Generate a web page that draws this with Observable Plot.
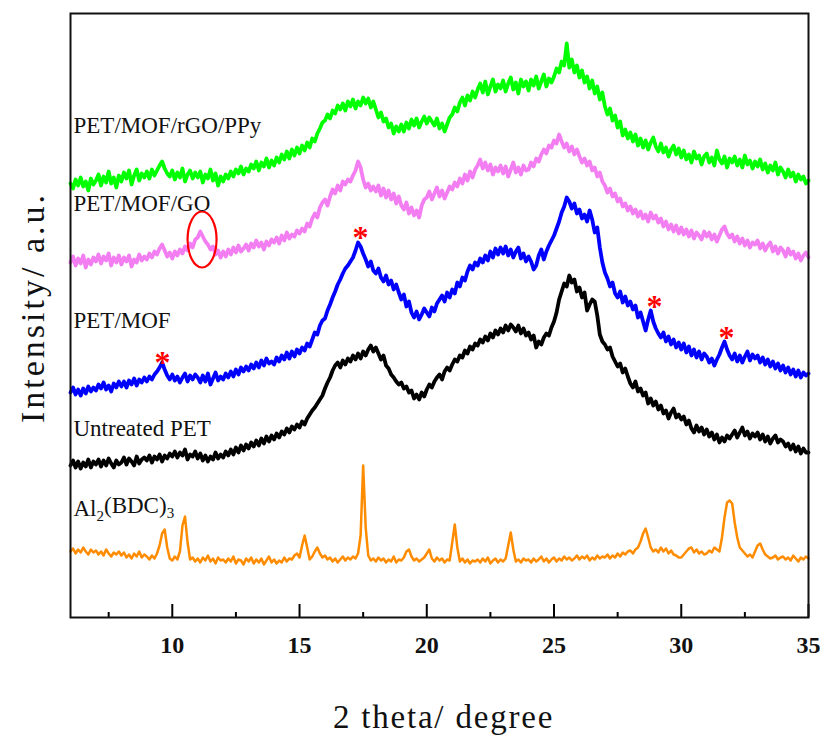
<!DOCTYPE html>
<html>
<head>
<meta charset="utf-8">
<script src="https://cdn.jsdelivr.net/npm/d3@7"></script>
<script src="https://cdn.jsdelivr.net/npm/@observablehq/plot@0.6"></script>
<style>
  html, body { margin: 0; padding: 0; background: #fff; }
  #chart svg { display: block; }
</style>
</head>
<body>
<div id="chart"></div>
<script>
// 2θ grid: 6.0 … 35.0 in 0.1° steps (291 points)
const thetaStart = 6, thetaStep = 0.1, thetaCount = 291;
const twoTheta = d3.range(thetaCount).map(i => +(thetaStart + i * thetaStep).toFixed(1));

// Intensity (a.u., offset-stacked), one row per degree (6.x … 34.x) + final 35.0
const rgoPpy = [
  434,429,438,432,440,431,436,427,439,433,
  437,443,432,441,435,446,434,440,430,442,
  436,445,439,447,433,442,448,437,444,440,
  446,439,448,442,447,452,456,449,444,441,
  447,438,445,440,449,436,443,447,439,445,
  440,446,435,443,439,448,437,444,432,441,
  436,443,439,446,441,448,444,451,443,449,
  446,453,449,456,447,455,451,459,450,457,
  452,460,455,463,458,466,459,468,462,470,
  464,472,467,475,470,479,476,484,489,495,
  497,503,499,507,504,512,508,514,507,516,
  511,518,509,516,512,520,514,519,510,516,
  508,500,505,496,499,490,494,484,491,486,
  493,486,495,489,498,492,499,490,496,501,
  494,500,496,492,499,489,494,486,493,500,
  503,510,506,515,520,512,522,517,526,520,
  528,534,525,536,523,531,538,526,533,529,
  537,526,534,540,528,535,524,538,531,536,
  527,538,532,541,529,536,543,531,539,535,
  541,549,545,556,552,574,550,558,545,552,
  540,547,535,541,529,537,524,531,518,525,
  511,503,509,497,502,490,496,482,488,479,
  485,476,483,472,479,470,477,468,475,480,
  471,466,474,465,470,461,468,472,463,469,
  460,467,458,463,455,466,459,462,453,461,
  464,455,460,452,467,458,454,461,450,459,
  455,461,452,458,450,462,453,457,449,456,
  451,458,448,454,445,452,447,455,443,450,
  446,440,448,441,445,436,443,438,441,434,
  437
];
const mofGo = [
  355,361,352,359,354,362,350,358,353,360,
  356,363,354,361,357,364,352,360,355,362,
  353,360,356,362,351,358,355,363,357,361,
  358,364,360,366,363,369,373,367,361,365,
  359,366,362,368,364,371,367,374,370,378,
  380,386,381,376,373,368,371,363,367,360,
  366,361,368,363,370,365,372,366,369,373,
  367,374,370,377,371,375,368,376,372,378,
  375,380,374,382,377,385,379,383,381,387,
  384,389,386,394,391,399,404,400,410,415,
  418,412,421,428,424,432,427,436,433,438,
  436,442,447,456,450,438,430,434,427,431,
  426,432,422,429,420,427,418,424,414,421,
  412,408,415,404,410,402,407,400,412,418,
  420,426,418,424,430,421,427,419,425,431,
  428,435,431,439,434,443,437,446,440,448,
  452,458,449,455,447,453,443,450,446,452,
  444,451,441,448,455,445,450,443,452,447,
  448,455,451,459,456,463,468,464,472,470,
  477,474,483,476,470,474,466,471,463,468,
  461,455,459,452,456,447,450,441,445,436,
  432,425,429,421,424,416,419,411,414,407,
  411,404,408,401,406,399,403,396,405,399,
  402,395,399,391,396,388,393,386,392,384,
  390,383,388,381,387,379,385,382,378,386,
  381,385,378,383,376,382,388,391,384,380,
  383,376,381,374,379,372,377,370,375,373,
  377,369,374,367,372,375,366,371,364,370,
  367,361,369,363,366,359,364,357,362,365,
  360
];
const petMof = [
  225,230,223,228,222,229,224,231,226,230,
  227,233,229,235,228,232,226,234,230,236,
  231,236,230,237,233,239,232,238,235,240,
  236,241,238,243,246,250,255,248,242,238,
  243,237,241,235,240,244,236,242,238,243,
  240,235,242,236,244,233,239,245,237,241,
  238,244,240,246,241,248,243,250,246,251,
  247,253,249,255,250,257,252,259,254,256,
  253,260,256,262,258,265,259,266,261,268,
  264,270,267,274,271,278,285,283,292,297,
  299,307,313,320,326,333,338,344,349,352,
  356,360,367,375,371,364,358,351,356,347,
  344,349,340,336,342,333,337,328,333,325,
  318,323,311,316,305,300,306,298,303,309,
  305,301,310,306,314,318,322,316,325,320,
  328,324,335,331,340,337,346,352,348,355,
  352,359,355,362,357,366,360,369,363,370,
  364,371,362,368,360,366,370,359,364,356,
  361,356,348,352,362,368,358,366,372,377,
  382,389,396,405,411,420,416,409,414,404,
  408,399,403,396,407,398,385,390,370,355,
  345,339,331,335,324,320,326,315,321,312,
  316,308,312,300,305,296,287,298,307,296,
  289,284,280,285,276,281,273,278,270,275,
  268,274,265,271,262,268,260,266,258,264,
  261,255,259,252,258,263,270,276,268,262,
  258,264,256,262,255,261,266,257,263,259,
  262,255,260,253,258,251,256,249,254,247,
  252,245,250,243,248,241,247,240,245,242,
  244
];
const untreatedPet = [
  152,157,150,156,149,155,151,158,150,156,
  153,158,151,157,152,159,154,150,157,153,
  155,160,153,159,156,152,161,154,158,160,
  157,162,155,161,158,163,156,162,159,164,
  161,166,160,165,162,168,158,163,161,166,
  159,164,157,162,156,161,158,165,159,163,
  160,166,162,168,163,170,165,172,167,173,
  169,175,171,177,172,179,174,181,176,182,
  178,184,180,186,183,189,185,191,188,193,
  190,196,193,199,203,207,210,214,218,222,
  229,235,240,247,252,255,250,257,253,259,
  256,262,258,264,259,266,262,268,272,266,
  270,264,258,262,252,249,243,240,236,233,
  235,229,231,225,227,219,223,218,225,221,
  228,233,230,236,240,243,238,246,250,247,
  253,258,256,262,260,267,264,271,268,274,
  272,278,275,281,277,284,280,287,283,289,
  285,292,287,293,290,286,292,284,289,282,
  285,278,282,270,276,273,280,284,282,290,
  296,305,318,326,334,331,342,335,338,326,
  330,320,325,307,313,318,316,302,283,276,
  273,268,270,261,256,251,254,245,249,241,
  234,230,236,226,229,222,225,214,219,212,
  216,208,212,204,207,199,205,209,200,203,
  198,201,193,197,189,185,192,186,190,183,
  188,181,185,178,183,175,180,176,182,179,
  183,187,180,185,190,182,186,179,184,181,
  185,178,183,176,181,174,179,182,175,178,
  176,171,174,168,173,166,171,164,169,165,
  165
];
const al2bdc3 = [
  66,69,64,68,65,70,66,63,68,65,
  67,63,66,62,68,64,61,65,63,66,
  62,65,60,63,59,64,61,66,60,63,
  61,58,62,59,64,72,84,88,70,59,
  57,61,58,66,92,101,75,58,60,56,
  59,55,60,57,62,56,59,54,60,57,
  58,55,59,56,61,54,58,57,53,59,
  56,60,54,58,55,59,53,57,61,55,
  58,54,57,55,60,56,59,58,62,64,
  60,72,82,70,58,61,66,70,64,60,
  62,58,60,56,59,55,58,61,57,60,
  58,61,59,64,82,152,90,62,57,59,
  56,60,57,59,55,58,56,61,55,58,
  57,60,66,68,61,57,59,56,58,60,
  64,68,59,56,60,57,59,55,58,57,
  75,93,70,56,59,55,58,54,57,56,
  58,55,59,56,60,54,57,59,55,58,
  56,59,72,85,68,56,58,55,59,57,
  58,55,59,56,58,61,56,59,55,58,
  60,56,59,57,61,58,60,57,59,62,
  58,61,59,62,57,60,58,62,59,61,
  60,63,59,62,60,64,61,65,63,66,
  67,64,68,70,76,84,89,80,70,66,
  68,65,70,66,69,64,67,63,62,60,
  60,63,66,69,70,65,68,64,66,63,
  64,67,65,70,68,66,80,100,115,117,
  114,95,80,70,67,64,61,63,60,66,
  72,74,68,63,61,59,60,62,58,60,
  61,58,60,57,62,59,56,60,58,61,
  59
];

const seriesNames  = ["PET/MOF/rGO/PPy", "PET/MOF/GO", "PET/MOF", "Untreated PET", "Al2(BDC)3"];
const seriesValues = [rgoPpy, mofGo, petMof, untreatedPet, al2bdc3];
const seriesColors = ["#00ff00", "#f27ef2", "#0000ff", "#000000", "#ff8c00"];
const seriesWidths = [3.8, 3.8, 3.8, 3.8, 2.5];
const labelY = [492, 414, 297, 189, 109];

// red asterisks (PET/MOF reflections) and circled GO feature
const starX = [9.62, 17.4, 28.95, 31.78];
const starY = [264, 389, 320, 289];
const circleX = [11.17];
const circleY = [378];

const majorTicks = [10, 15, 20, 25, 30, 35];
const minorTicks = [7.5, 12.5, 17.5, 22.5, 27.5, 32.5];

const serif = "'Liberation Serif', 'Times New Roman', serif";

const ellipseSymbol = {
  draw(context, size) {
    const rx = 14.5, ry = 28, k = 0.5522847498;
    context.moveTo(rx, 0);
    context.bezierCurveTo(rx, k * ry, k * rx, ry, 0, ry);
    context.bezierCurveTo(-k * rx, ry, -rx, k * ry, -rx, 0);
    context.bezierCurveTo(-rx, -k * ry, -k * rx, -ry, 0, -ry);
    context.bezierCurveTo(k * rx, -ry, rx, -k * ry, rx, 0);
    context.closePath();
  }
};

const lineMarks = seriesValues.map((vals, s) =>
  Plot.line(vals.map((v, i) => ({x: twoTheta[i], y: v})), {
    x: "x", y: "y", stroke: seriesColors[s], strokeWidth: seriesWidths[s],
    strokeLinejoin: "round", strokeLinecap: "round"
  })
).reverse();

const chart = Plot.plot({
  width: 827,
  height: 738,
  marginLeft: 70,
  marginRight: 19,
  marginTop: 13,
  marginBottom: 121,
  style: {background: "#fff", fontFamily: serif},
  x: {domain: [6, 35]},
  y: {domain: [0, 604], axis: null},
  marks: [
    ...lineMarks,
    Plot.dot(circleX.map((x, i) => ({x, y: circleY[i]})), {
      x: "x", y: "y", symbol: ellipseSymbol, r: 10, stroke: "#ff0000", strokeWidth: 2.2, fill: "none"
    }),
    Plot.text(starX.map((x, i) => ({x, y: starY[i]})), {
      x: "x", y: "y", text: () => "*", fill: "#ff0000", fontSize: 32, fontWeight: "bold",
      fontFamily: serif, dy: 9
    }),
    Plot.text(seriesNames.map((name, i) => ({name, y: labelY[i]})), {
      frameAnchor: "left", y: "y", text: "name", dx: 3, textAnchor: "start",
      fontSize: 23, fontFamily: serif, fill: "#111"
    }),
    Plot.axisX({ticks: majorTicks, tickSize: -13, tickFormat: () => "", strokeWidth: 2, label: null}),
    Plot.axisX({ticks: minorTicks, tickSize: -5, tickFormat: () => "", strokeWidth: 2, label: null}),
    Plot.axisX({ticks: majorTicks, tickSize: 0, tickPadding: 18, fontSize: 24, fontWeight: "bold",
      fontFamily: serif, label: null, fill: "#111"}),
    Plot.text(["2 theta/ degree"], {frameAnchor: "bottom", dy: 110, dx: 4, lineAnchor: "bottom",
      textAnchor: "middle", fontSize: 33, fontFamily: serif, fill: "#111",
      letterSpacing: 1.8}),
    Plot.text(["Intensity/ a.u."], {frameAnchor: "left", rotate: -90, dx: -37, dy: -8,
      textAnchor: "middle", fontSize: 34, fontFamily: serif, fill: "#111"}),
    Plot.frame({stroke: "#111", strokeWidth: 2})
  ]
});

// subscripts for Al2(BDC)3; letter spacing on titles
d3.select(chart).selectAll("text").each(function () {
  if (this.textContent === "Al2(BDC)3") {
    const t = d3.select(this);
    t.text(null);
    t.append("tspan").text("Al");
    t.append("tspan").attr("dy", "0.32em").attr("font-size", 15).text("2");
    t.append("tspan").attr("dy", "-0.32em").text("(BDC)");
    t.append("tspan").attr("dy", "0.32em").attr("font-size", 15).text("3");
  }
  if (this.textContent === "Intensity/ a.u.") d3.select(this).attr("letter-spacing", 3);
  if (this.textContent === "2 theta/ degree") d3.select(this).attr("letter-spacing", 1.8);
});

document.getElementById("chart").appendChild(chart);
</script>
</body>
</html>
